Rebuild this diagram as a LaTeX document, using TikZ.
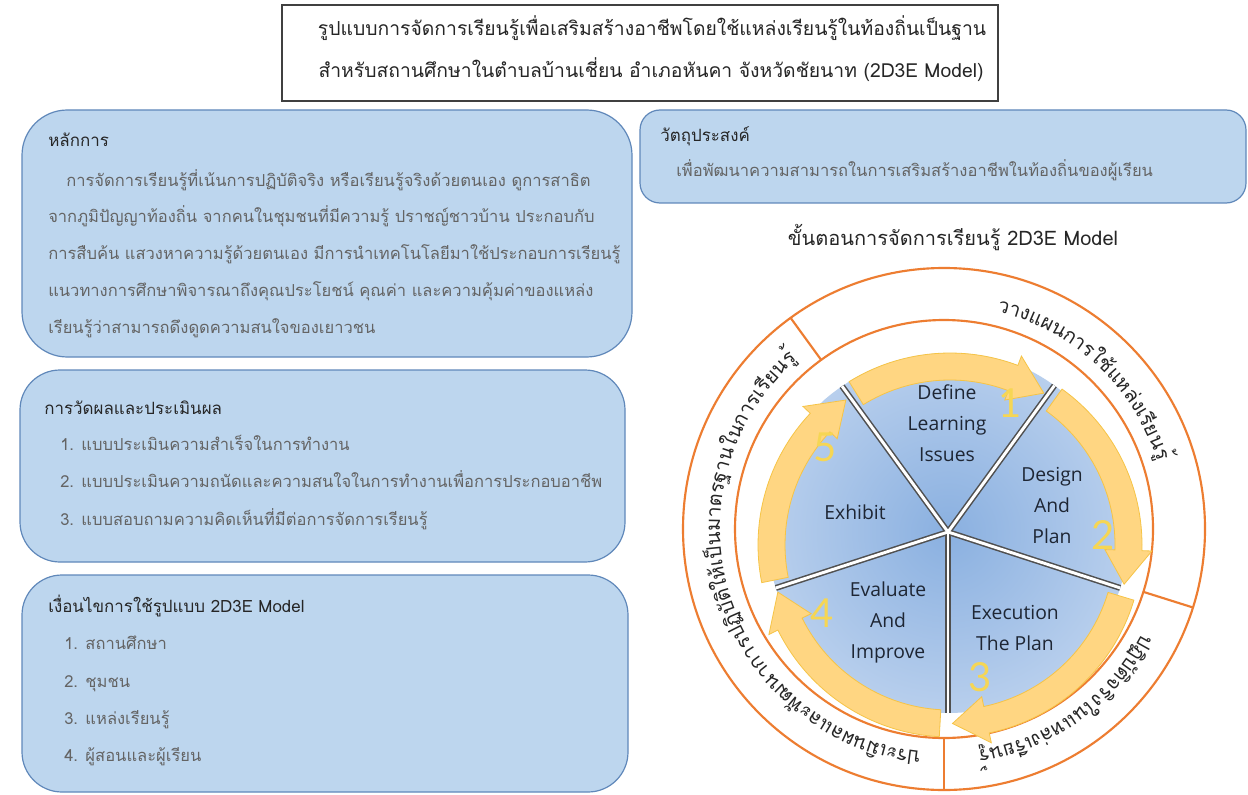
\documentclass[tikz,border=0pt]{standalone}
\usepackage{fontspec}
\setmainfont{Loma}[Script=Thai]
\newfontfamily\labelfont{Open Sans}
\newfontfamily\numfont{Lato}
\usetikzlibrary{calc,decorations.text}

\definecolor{boxblue}{RGB}{189,214,238}
\definecolor{boxedge}{RGB}{96,136,186}
\definecolor{titleedge}{RGB}{64,64,64}
\definecolor{headtxt}{RGB}{38,38,38}
\definecolor{bodytxt}{RGB}{100,100,100}
\definecolor{ringorange}{RGB}{237,125,49}
\definecolor{arrowfill}{RGB}{255,214,130}
\definecolor{arrowedge}{RGB}{246,196,70}
\definecolor{pieinner}{RGB}{138,176,224}
\definecolor{pieouter}{RGB}{184,207,237}
\definecolor{sepdark}{RGB}{80,80,80}
\definecolor{numyellow}{RGB}{246,214,84}
\definecolor{steptxt}{RGB}{30,38,52}

\newcommand{\ringfont}{\fontsize{15}{17}\selectfont}
\newcommand{\cyclearrow}[2]{%
  \path[arrowband] (#1:192) arc[start angle=#1, end angle={#2+11}, radius=192]
    -- ({#2+11}:202) -- (#2:178.5) -- ({#2+11}:155) -- ({#2+11}:165)
    arc[start angle={#2+11}, end angle=#1, radius=165] -- cycle;}

\tikzset{
  panel/.style={draw=boxedge, line width=0.9pt, fill=boxblue},
  titlebox/.style={draw=titleedge, line width=1.1pt, fill=white},
  head/.style={anchor=west, inner sep=0pt, text height=9pt, text depth=3pt, text=headtxt, font=\fontsize{12.7}{15}\selectfont},
  body/.style={anchor=west, inner sep=0pt, text height=9pt, text depth=3pt, text=bodytxt, font=\fontsize{12.4}{15}\selectfont},
  titletext/.style={inner sep=0pt, text height=11pt, text depth=3pt, text=black!85, font=\fontsize{14.5}{17}\selectfont},
  steplabel/.style={align=center, inner sep=0pt, text=steptxt, font=\labelfont\fontsize{14.5}{23.25}\selectfont},
  stepnum/.style={inner sep=0pt, text=numyellow, font=\numfont\fontsize{30}{30}\selectfont},
  ringline/.style={draw=ringorange, line width=1.6pt},
  ringtext/.style={decorate, decoration={text along path, text align=center, text color=black!85}},
  seprim/.style={draw=sepdark, line width=4.5pt},
  sepcore/.style={draw=white, line width=2.2pt},
  arrowband/.style={fill=arrowfill, draw=arrowedge, line width=0.6pt}
}

\begin{document}
\begin{tikzpicture}[x=0.75pt,y=0.75pt]
\path[fill=white] (0,0) rectangle (1248,794);
\useasboundingbox (0,0) rectangle (1248,794);

% title
\draw[titlebox] (282,693) rectangle (998,789);
\node[titletext] (title1) at (652,764) {รูปแบบการจัดการเรียนรู้เพื่อเสริมสร้างอาชีพโดยใช้แหล่งเรียนรู้ในท้องถิ่นเป็นฐาน};
\node[titletext] (title2) at (651,722) {สำหรับสถานศึกษาในตำบลบ้านเชี่ยน อำเภอหันคา จังหวัดชัยนาท (2D3E Model)};

% left panels
\draw[panel, rounded corners=34pt] (22,437) rectangle (632,684);
\node[head] (prinhead) at (48,651) {หลักการ};
\node[body] (prin1) at (66,611) {การจัดการเรียนรู้ที่เน้นการปฏิบัติจริง หรือเรียนรู้จริงด้วยตนเอง ดูการสาธิต};
\node[body] (prin2) at (48,575) {จากภูมิปัญญาท้องถิ่น จากคนในชุมชนที่มีความรู้ ปราชญ์ชาวบ้าน ประกอบกับ};
\node[body] (prin3) at (48,539) {การสืบค้น แสวงหาความรู้ด้วยตนเอง มีการนำเทคโนโลยีมาใช้ประกอบการเรียนรู้};
\node[body] (prin4) at (48,502) {แนวทางการศึกษาพิจารณาถึงคุณประโยชน์ คุณค่า และความคุ้มค่าของแหล่ง};
\node[body] (prin5) at (48,465) {เรียนรู้ว่าสามารถดึงดูดความสนใจของเยาวชน};

\draw[panel, rounded corners=30pt] (20,232) rectangle (625,424);
\node[head] (evalhead) at (44,384) {การวัดผลและประเมินผล};
\node[body] (eval1) at (60,348) {1. แบบประเมินความสำเร็จในการทำงาน};
\node[body] (eval2) at (60,311) {2. แบบประเมินความถนัดและความสนใจในการทำงานเพื่อการประกอบอาชีพ};
\node[body] (eval3) at (60,273) {3. แบบสอบถามความคิดเห็นที่มีต่อการจัดการเรียนรู้};

\draw[panel, rounded corners=30pt] (22,2) rectangle (628,219);
\node[head] (condhead) at (48,186) {เงื่อนไขการใช้รูปแบบ 2D3E Model};
\node[body] (cond1) at (64,149) {1. สถานศึกษา};
\node[body] (cond2) at (64,111) {2. ชุมชน};
\node[body] (cond3) at (64,74) {3. แหล่งเรียนรู้};
\node[body] (cond4) at (64,37) {4. ผู้สอนและผู้เรียน};

% objective
\draw[panel, rounded corners=15pt] (640,591) rectangle (1246,684);
\node[head] (aimhead) at (660,656) {วัตถุประสงค์};
\node[body] (aim1) at (676,621) {เพื่อพัฒนาความสามารถในการเสริมสร้างอาชีพในท้องถิ่นของผู้เรียน};

\node[titletext, font=\fontsize{15}{17}\selectfont] (cyclecap) at (953,554) {ขั้นตอนการจัดการเรียนรู้ 2D3E Model};

% cycle
\coordinate (ringc) at (944,265);
\coordinate (hub) at (948,262);
\coordinate (arrowc) at (950,249);

\draw[ringline] (ringc) circle (261);
\draw[ringline] (ringc) circle (209);
\foreach \a in {126,-17.5,-90} {
  \draw[ringline] (ringc) ++(\a:209) -- ++(\a:52);
}

\path[ringtext, decoration={text={|\ringfont|{ว}{า}{ง}{แ}{ผ}{น}{ก}{า}{ร}{ใ}{ช้}{แ}{ห}{ล่}{ง}{เ}{รี}{ย}{น}{รู้}}}]
  (ringc) ++(93:224) arc[start angle=93, end angle=1, radius=224];
\path[ringtext, decoration={text={|\ringfont|{ป}{ฏิ}{บั}{ติ}{จ}{ริ}{ง}{ใ}{น}{แ}{ห}{ล่}{ง}{เ}{รี}{ย}{น}{รู้}}}]
  (ringc) ++(-20:224) arc[start angle=-20, end angle=-89, radius=224];
\path[ringtext, decoration={text={|\ringfont|{ป}{ร}{ะ}{เ}{มิ}{น}{ผ}{ล}{แ}{ล}{ะ}{พั}{ฒ}{น}{า}{ก}{า}{ร}{ป}{ฏิ}{บั}{ติ}{ใ}{ห้}{เ}{ป็}{น}{ม}{า}{ต}{ร}{ฐ}{า}{น}{ใ}{น}{ก}{า}{ร}{เ}{รี}{ย}{น}{รู้}}}]
  (ringc) ++(-93:224) arc[start angle=-93, end angle=-232, radius=224];

\begin{scope}
  \clip (arrowc) circle (192);
  \shade[inner color=pieinner, outer color=pieouter] (hub) circle (181);
  \foreach \a in {126,54,-18,-90,-162} {
    \draw[seprim] (hub) -- ++(\a:181);
  }
  \foreach \a in {126,54,-18,-90,-162} {
    \draw[sepcore] (hub) -- ++(\a:181);
  }
\end{scope}

\begin{scope}[shift={(arrowc)}]
  \cyclearrow{121.7}{58.3}
  \cyclearrow{54.3}{-12.7}
  \cyclearrow{-16.7}{-89.2}
  \cyclearrow{-93.2}{-164.7}
  \cyclearrow{191.3}{125.7}
\end{scope}

\node[steplabel] (define) at (947,371) {Define\\Learning\\Issues};
\node[steplabel] (design) at (1052,289) {Design\\And\\Plan};
\node[steplabel] (execute) at (1015,166) {Execution\\The Plan};
\node[steplabel] (evaluate) at (888,172) {Evaluate\\And\\Improve};
\node[steplabel] (exhibit) at (855,282) {Exhibit};

\node[stepnum] (num1) at (1010,391) {1};
\node[stepnum] (num2) at (1103,259) {2};
\node[stepnum] (num3) at (980,117) {3};
\node[stepnum] (num4) at (822,181) {4};
\node[stepnum] (num5) at (825,347) {5};
\end{tikzpicture}
\end{document}
